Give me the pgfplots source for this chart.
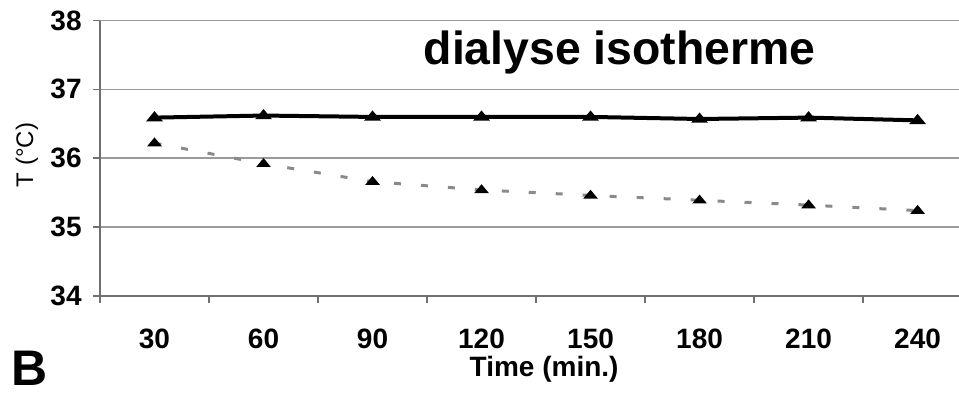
\documentclass[border=0pt]{standalone}
\usepackage{fontspec}
\setmainfont{Liberation Sans}
\usepackage{pgfplots}
\pgfplotsset{compat=1.18}
\definecolor{gridc}{HTML}{9A9A9A}
\definecolor{axc}{HTML}{707070}
\definecolor{dashc}{HTML}{8A8A8A}
\begin{document}
\begin{tikzpicture}
\begin{axis}[
  name=ax,
  scale only axis, width=429.5pt, height=137.75pt,
  xmin=0.5, xmax=8.38, ymin=34, ymax=38,
  axis x line*=bottom, axis y line*=left,
  axis line style={axc, line width=1pt},
  xtick={0.5,1.5,...,7.5},
  xticklabels={30,60,90,120,150,180,210,240},
  ytick={34,35,36,37,38},
  yticklabels={34,35,36,37,38},
  tick align=outside,
  major tick length=3.5pt,
  tick style={axc, line width=0.8pt},
  ymajorgrids,
  grid style={gridc, line width=0.8pt},
  xticklabel style={anchor=base, inner sep=0pt, xshift=27.25pt, yshift=-22.5pt,
     font=\fontsize{14}{16}\selectfont\bfseries},
  yticklabel style={anchor=east, inner sep=0pt, xshift=-5.5pt,
     font=\fontsize{14}{16}\selectfont\bfseries},
  ylabel={T (°C)},
  ylabel style={at={(axis description cs:-0.085,0.512)}, anchor=center,
     font=\fontsize{12}{14}\selectfont},
  xlabel={Time (min.)},
  xlabel style={at={(axis description cs:0.517,-0.265)}, anchor=center,
     font=\fontsize{14}{16}\selectfont\bfseries},
  clip=false,
]
\addplot[black, line width=2pt, mark=triangle*, mark size=2.4pt, mark options={yscale=0.7}] coordinates {
 (1,36.59) (2,36.62) (3,36.60) (4,36.60) (5,36.60) (6,36.57) (7,36.59) (8,36.55)};
\addplot[dashc, line width=1.5pt, dash pattern=on 3.5pt off 10pt,
  mark=triangle*, mark size=2.4pt, mark options={black, solid, yscale=0.7}] coordinates {
 (1,36.22) (2,35.92) (3,35.66) (4,35.54) (5,35.46) (6,35.39) (7,35.32) (8,35.24)};
\node[anchor=base, font=\fontsize{23.2}{26}\selectfont\bfseries]
  at (axis description cs:0.605,0.8385) {dialyse isotherme};
\node[anchor=center, font=\fontsize{25}{28}\selectfont\bfseries]
  at (axis description cs:-0.0815,-0.262) {B};
\end{axis}
\pgfresetboundingbox
\path[use as bounding box] ([xshift=-50pt,yshift=-49pt]ax.south west) rectangle ([yshift=148pt]ax.south east);
\end{tikzpicture}
\end{document}
